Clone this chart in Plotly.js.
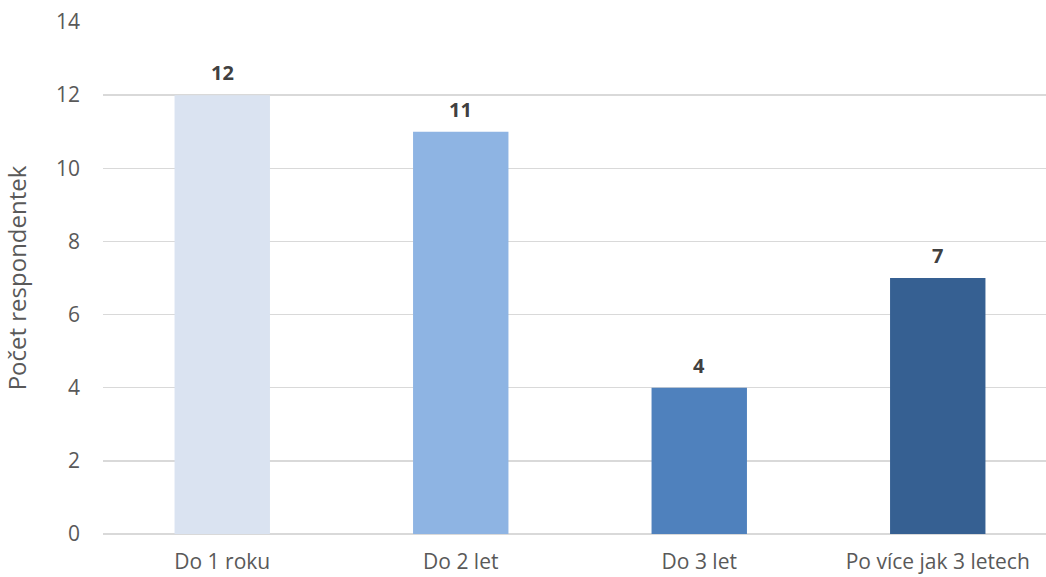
<!DOCTYPE html>
<html>
<head>
<meta charset="utf-8">
<script src="https://cdn.plot.ly/plotly-3.0.1.min.js"></script>
<style>
html,body{margin:0;padding:0;overflow:hidden;background:#fff;}
#chart{width:1057px;height:577px;}
</style>
</head>
<body>
<div id="chart"></div>
<script>
const categories = ["Do 1 roku", "Do 2 let", "Do 3 let", "Po více jak 3 letech"];
const values = [12, 11, 4, 7];
const barColors = ["#dae3f1", "#8eb4e3", "#4f81bd", "#366092"];
const yTicks = [0, 2, 4, 6, 8, 10, 12, 14];
const yTitle = "Počet respondentek";

const FONT = "'Open Sans', sans-serif";

const trace = {
  type: "bar",
  x: categories,
  y: values,
  marker: {color: barColors},
  width: 0.4,
  hoverinfo: "x+y"
};

const annotations = categories.map((c, i) => ({
  x: c, y: values[i], xref: "x", yref: "y",
  text: "<b>" + values[i] + "</b>",
  showarrow: false, yanchor: "bottom", yshift: 7,
  font: {family: FONT, size: 20, color: "#404040"}
}));

const layout = {
  width: 1057, height: 577,
  margin: {l: 103, r: 0, t: 22, b: 43},
  paper_bgcolor: "#fff", plot_bgcolor: "#fff",
  showlegend: false,
  bargap: 0.6,
  xaxis: {
    type: "category",
    showgrid: false, zeroline: false,
    showline: false,
    tickfont: {family: FONT, size: 21, color: "#595959"},
    ticks: "", ticklabelstandoff: 13
  },
  yaxis: {
    range: [0, 14],
    tickvals: yTicks,
    showgrid: true, gridcolor: "#d9d9d9", gridwidth: 1.5,
    zeroline: true, zerolinecolor: "#d9d9d9", zerolinewidth: 1.5,
    tickfont: {family: FONT, size: 21, color: "#595959"},
    ticks: "", ticklabelstandoff: 22,
    title: {text: yTitle, font: {family: FONT, size: 24, color: "#595959"}, standoff: 24}
  },
  annotations: annotations
};

Plotly.newPlot("chart", [trace], layout, {displayModeBar: false, staticPlot: true});
</script>
</body>
</html>
